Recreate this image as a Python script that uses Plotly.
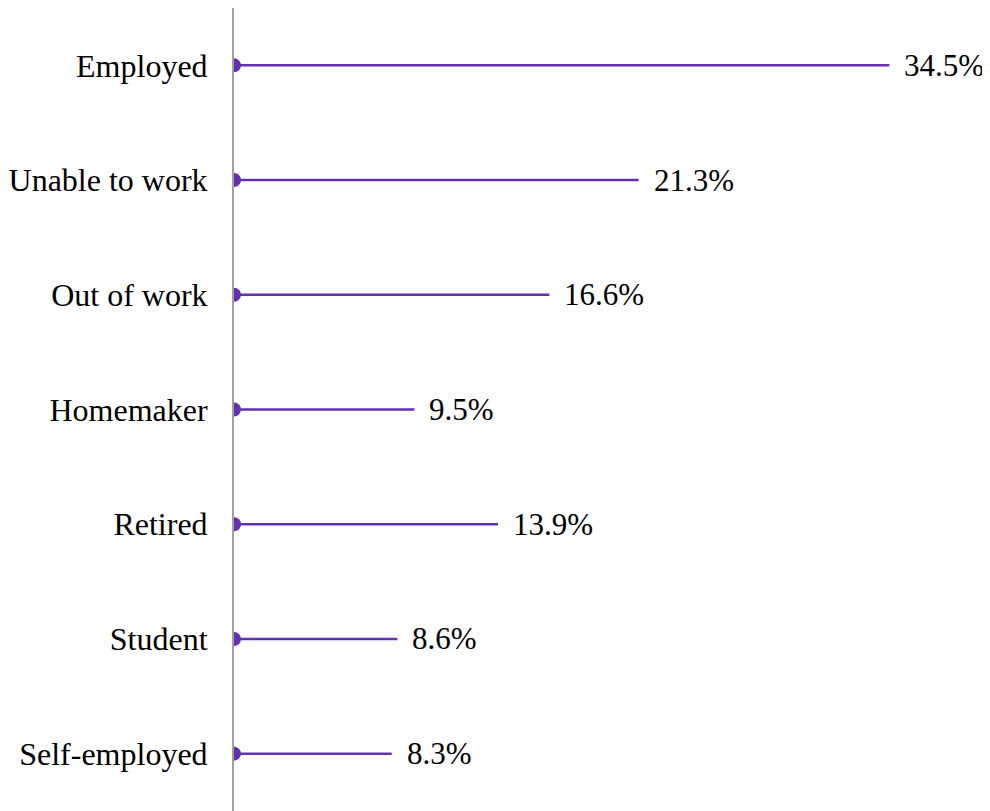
import plotly.graph_objects as go

categories = ["Employed", "Unable to work", "Out of work", "Homemaker", "Retired", "Student", "Self-employed"]
values = [34.5, 21.3, 16.6, 9.5, 13.9, 8.6, 8.3]
labels = ["34.5%", "21.3%", "16.6%", "9.5%", "13.9%", "8.6%", "8.3%"]

PURPLE = "#6530b0"
FONT = "Liberation Serif"

fig = go.Figure()

# lollipop stems
xs, ys = [], []
for c, v in zip(categories, values):
    xs += [0, v, None]
    ys += [c, c, None]
fig.add_trace(go.Scatter(x=xs, y=ys, mode="lines",
                         line=dict(color=PURPLE, width=2.5),
                         hoverinfo="skip", showlegend=False))
# start markers (half clipped by plot area)
fig.add_trace(go.Scatter(x=[0] * len(categories), y=categories, mode="markers",
                         marker=dict(color=PURPLE, size=14),
                         cliponaxis=True, showlegend=False))

for c, v, t in zip(categories, values, labels):
    fig.add_annotation(x=v, y=c, text=t, showarrow=False, xanchor="left",
                       xshift=13, font=dict(family=FONT, size=31, color="black"))

fig.update_layout(
    width=982, height=803,
    margin=dict(l=226, r=0, t=0, b=0),
    paper_bgcolor="white", plot_bgcolor="white",
    xaxis=dict(range=[0, 39.8], showgrid=False, zeroline=False,
               showticklabels=False, showline=False),
    yaxis=dict(type="category", categoryorder="array", categoryarray=categories,
               range=[6.5, -0.5], showgrid=False, zeroline=False,
               showline=True, linecolor="#a0a0a0", linewidth=2,
               ticks="", ticklabelstandoff=18,
               tickfont=dict(family=FONT, size=32, color="black")),
)

fig.write_html("out.html")
